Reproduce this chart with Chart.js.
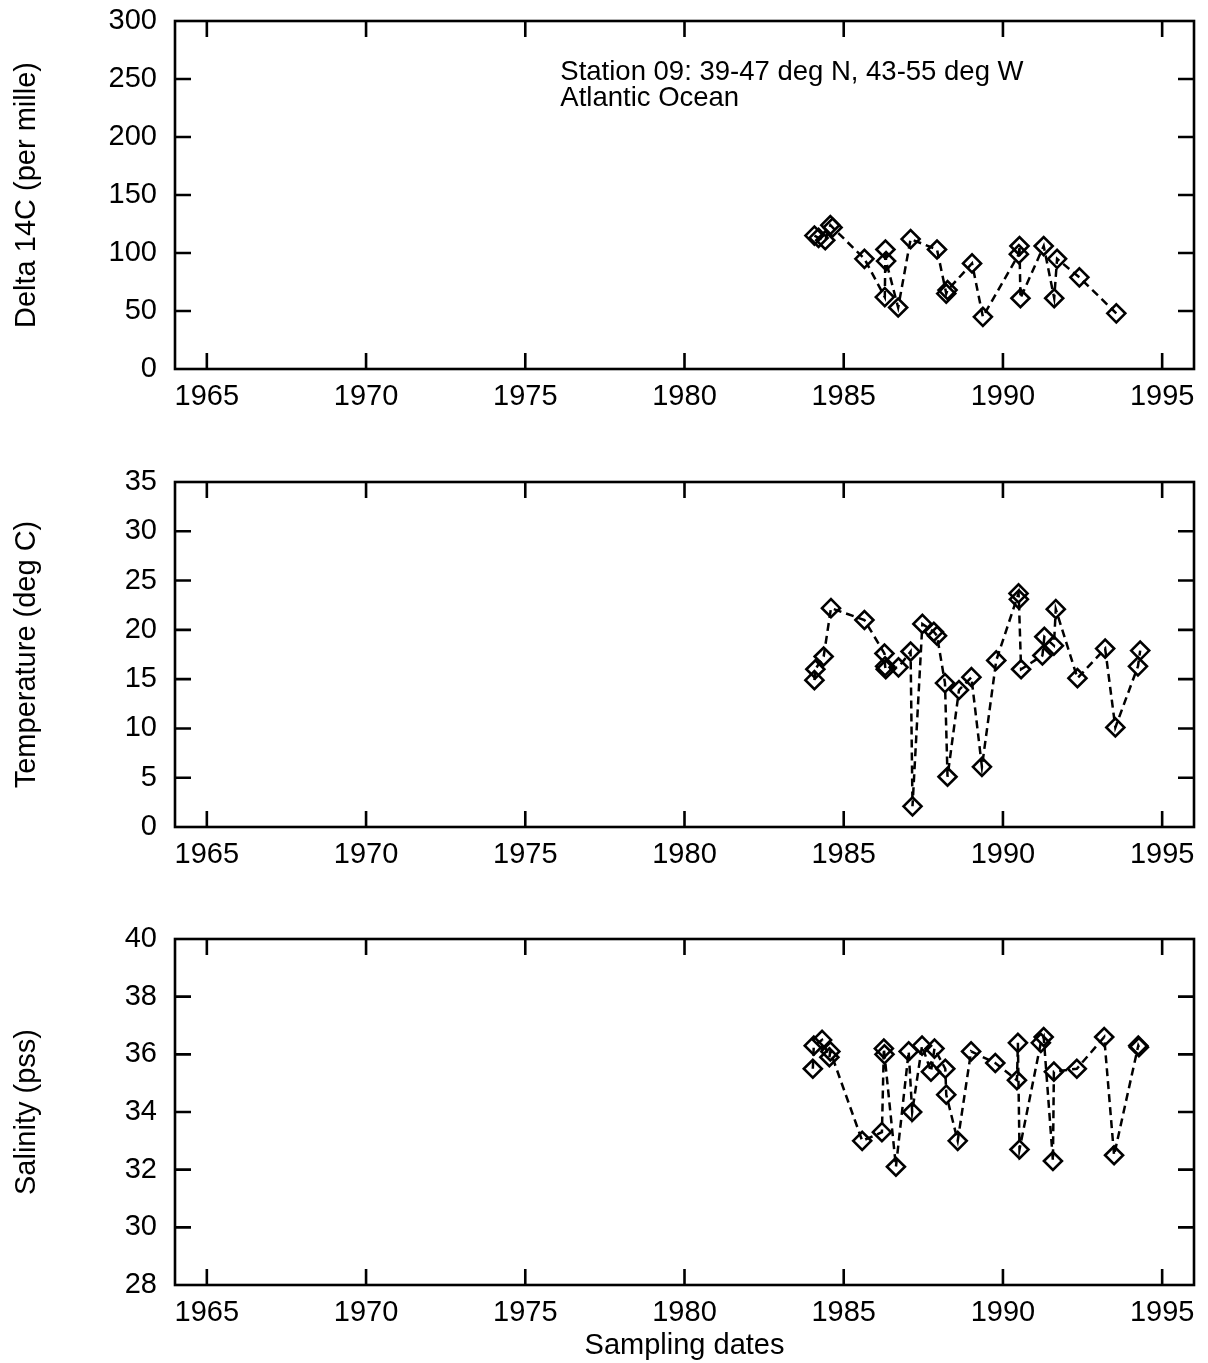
<!DOCTYPE html>
<html>
<head>
<meta charset="utf-8">
<script src="https://cdn.jsdelivr.net/npm/chart.js@4.4.0/dist/chart.umd.min.js"></script>
<style>
  html, body { margin: 0; padding: 0; background: #fff; overflow: hidden; }
  #page { position: relative; width: 1208px; height: 1363px; overflow: hidden; }
  .panel { position: absolute; left: 0; width: 1208px; }
</style>
</head>
<body>
<div id="page">
  <div class="panel" style="top:-20px;height:460px"><canvas id="c14"></canvas></div>
  <div class="panel" style="top:440px;height:450px"><canvas id="temp"></canvas></div>
  <div class="panel" style="top:890px;height:473px"><canvas id="sal"></canvas></div>
</div>
<script>
// sampling dates (decimal years) and measured values for station 09
const c14Dates = [1984.08, 1984.21, 1984.42, 1984.58, 1984.65, 1985.65, 1986.29, 1986.31, 1986.33, 1986.71,
  1987.10, 1987.93, 1988.22, 1988.26, 1989.03, 1989.37, 1990.50, 1990.52, 1990.55, 1991.28,
  1991.61, 1991.70, 1992.40, 1993.56];
const c14Values = [115, 113, 111, 124, 122, 95, 62, 103, 93, 53,
  112, 103, 65, 68, 91, 45, 99, 106, 61, 106,
  61, 95, 79, 48];

const tempDates = [1984.08, 1984.11, 1984.37, 1984.60, 1985.65, 1986.28, 1986.30, 1986.32, 1986.72, 1987.10,
  1987.16, 1987.47, 1987.83, 1987.93, 1988.18, 1988.26, 1988.62, 1989.01, 1989.34, 1989.79,
  1990.49, 1990.50, 1990.57, 1991.24, 1991.30, 1991.60, 1991.66, 1992.34, 1993.21, 1993.53,
  1994.24, 1994.31];
const tempValues = [14.9, 16.0, 17.3, 22.2, 21.0, 17.6, 16.3, 16.0, 16.2, 17.8,
  2.1, 20.6, 19.8, 19.4, 14.6, 5.1, 13.9, 15.2, 6.1, 16.9,
  23.7, 23.1, 16.0, 17.4, 19.3, 18.4, 22.1, 15.1, 18.1, 10.1,
  16.3, 17.9];

const salDates = [1984.03, 1984.06, 1984.32, 1984.55, 1984.58, 1985.58, 1986.20, 1986.26, 1986.28, 1986.64,
  1987.04, 1987.15, 1987.46, 1987.74, 1987.85, 1988.19, 1988.22, 1988.58, 1989.00, 1989.76,
  1990.44, 1990.47, 1990.52, 1991.19, 1991.28, 1991.57, 1991.60, 1992.32, 1993.18, 1993.49,
  1994.25, 1994.27];
const salValues = [35.5, 36.3, 36.5, 35.9, 36.1, 33.0, 33.3, 36.2, 36.0, 32.1,
  36.1, 34.0, 36.3, 35.4, 36.2, 35.5, 34.6, 33.0, 36.1, 35.7,
  35.1, 36.4, 32.7, 36.4, 36.6, 32.3, 35.4, 35.5, 36.6, 32.5,
  36.3, 36.25];

const yearTicks = [1965, 1970, 1975, 1980, 1985, 1990, 1995];

const FONT = "'Liberation Sans', Arial, Helvetica, sans-serif";
const FONT_SIZE = 29;
const AXIS_LEFT = 175;

function toPoints(dates, values) {
  return dates.map((d, i) => ({ x: d, y: values[i] }));
}

// frame around the plot area plus inward-pointing ticks on all four sides
const frameTicks = {
  id: "frameTicks",
  afterDraw(chart) {
    const { ctx, chartArea: a, scales } = chart;
    const len = 16;
    ctx.save();
    ctx.strokeStyle = "#000";
    ctx.lineWidth = 2.6;
    ctx.beginPath();
    scales.x.ticks.forEach(t => {
      const px = scales.x.getPixelForValue(t.value);
      if (px <= a.left + 1 || px >= a.right - 1) return;
      ctx.moveTo(px, a.bottom); ctx.lineTo(px, a.bottom - len);
      ctx.moveTo(px, a.top); ctx.lineTo(px, a.top + len);
    });
    scales.y.ticks.forEach(t => {
      const py = scales.y.getPixelForValue(t.value);
      if (py <= a.top + 1 || py >= a.bottom - 1) return;
      ctx.moveTo(a.left, py); ctx.lineTo(a.left + len, py);
      ctx.moveTo(a.right, py); ctx.lineTo(a.right - len, py);
    });
    ctx.stroke();
    ctx.strokeRect(a.left, a.top, a.right - a.left, a.bottom - a.top);
    ctx.restore();
  }
};

// station label in the upper panel
const stationLabel = {
  id: "stationLabel",
  afterDraw(chart, args, opts) {
    if (!opts.lines) return;
    const { ctx, scales } = chart;
    const x = scales.x.getPixelForValue(opts.x);
    const y = scales.y.getPixelForValue(opts.y);
    ctx.save();
    ctx.fillStyle = "#000";
    ctx.font = "27.5px " + FONT;
    ctx.textAlign = "left";
    ctx.textBaseline = "middle";
    opts.lines.forEach((s, i) => ctx.fillText(s, x, y + i * 26));
    ctx.restore();
  }
};

function makePanel(id, cfg) {
  const ctx = document.getElementById(id).getContext("2d");
  return new Chart(ctx, {
    type: "scatter",
    data: {
      datasets: [{
        data: toPoints(cfg.dates, cfg.values),
        showLine: true,
        borderColor: "#000",
        borderWidth: 2.5,
        borderDash: [8, 5],
        pointStyle: "rectRot",
        pointRadius: 9,
        pointBorderWidth: 2.6,
        pointBorderColor: "#000",
        pointBackgroundColor: "rgba(0,0,0,0)",
        tension: 0,
      }],
    },
    options: {
      responsive: true,
      maintainAspectRatio: false,
      animation: false,
      layout: { padding: { top: cfg.padTop, right: 14, left: 0, bottom: 0 } },
      plugins: {
        legend: { display: false },
        tooltip: { enabled: false },
        stationLabel: cfg.label || {},
      },
      scales: {
        x: {
          type: "linear",
          min: 1964,
          max: 1996,
          afterBuildTicks: s => { s.ticks = yearTicks.map(v => ({ value: v })); },
          afterFit: s => { s.height = cfg.xHeight; },
          grid: { display: false, drawTicks: false },
          border: { display: false },
          ticks: {
            color: "#000",
            padding: 11,
            maxRotation: 0,
            font: { family: FONT, size: FONT_SIZE },
            callback: v => String(v),
          },
          title: {
            display: !!cfg.xTitle,
            text: cfg.xTitle || "",
            color: "#000",
            padding: { top: 0, bottom: 0 },
            font: { family: FONT, size: FONT_SIZE },
          },
        },
        y: {
          min: cfg.yMin,
          max: cfg.yMax,
          afterFit: s => { s.width = AXIS_LEFT; },
          grid: { display: false, drawTicks: false },
          border: { display: false },
          ticks: {
            stepSize: cfg.yStep,
            color: "#000",
            padding: 18,
            font: { family: FONT, size: FONT_SIZE },
          },
          title: {
            display: true,
            text: cfg.yTitle,
            color: "#000",
            padding: { top: 10, bottom: 0 },
            font: { family: FONT, size: FONT_SIZE },
          },
        },
      },
    },
    plugins: [frameTicks, stationLabel],
  });
}

makePanel("c14", {
  dates: c14Dates, values: c14Values,
  yMin: 0, yMax: 300, yStep: 50,
  yTitle: "Delta 14C (per mille)",
  padTop: 41, xHeight: 71,
  label: { x: 1976.1, y: 256, lines: ["Station 09: 39-47 deg N, 43-55 deg W", "Atlantic Ocean"] },
});

makePanel("temp", {
  dates: tempDates, values: tempValues,
  yMin: 0, yMax: 35, yStep: 5,
  yTitle: "Temperature (deg C)",
  padTop: 42, xHeight: 63,
});

makePanel("sal", {
  dates: salDates, values: salValues,
  yMin: 28, yMax: 40, yStep: 2,
  yTitle: "Salinity (pss)",
  xTitle: "Sampling dates",
  padTop: 49, xHeight: 78,
});
</script>
</body>
</html>
